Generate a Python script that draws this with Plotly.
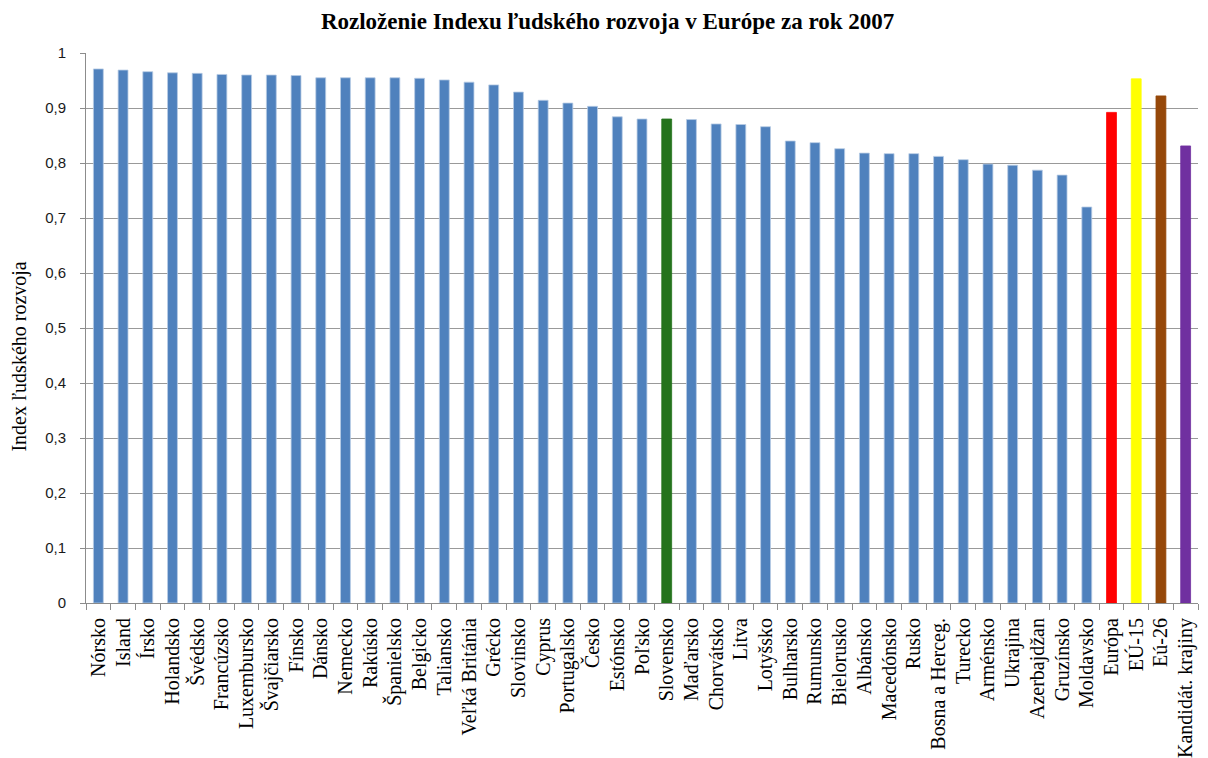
import plotly.graph_objects as go

# Human Development Index in Europe, 2007
krajiny = [
    "Nórsko", "Island", "Írsko", "Holandsko", "Švédsko", "Francúzsko",
    "Luxembursko", "Švajčiarsko", "Fínsko", "Dánsko", "Nemecko", "Rakúsko",
    "Španielsko", "Belgicko", "Taliansko", "Veľká Británia", "Grécko",
    "Slovinsko", "Cyprus", "Portugalsko", "Česko", "Estónsko", "Poľsko",
    "Slovensko", "Maďarsko", "Chorvátsko", "Litva", "Lotyšsko", "Bulharsko",
    "Rumunsko", "Bielorusko", "Albánsko", "Macedónsko", "Rusko",
    "Bosna a Herceg.", "Turecko", "Arménsko", "Ukrajina", "Azerbajdžan",
    "Gruzínsko", "Moldavsko", "Európa", "EÚ-15", "Eú-26", "Kandidát. krajiny",
]

hdi = [
    0.971, 0.969, 0.966, 0.964, 0.963, 0.961,
    0.960, 0.960, 0.959, 0.955, 0.955, 0.955,
    0.955, 0.954, 0.951, 0.947, 0.942,
    0.929, 0.914, 0.909, 0.903, 0.884, 0.880,
    0.880, 0.879, 0.871, 0.870, 0.866, 0.840,
    0.837, 0.826, 0.818, 0.817, 0.817,
    0.812, 0.806, 0.798, 0.796, 0.787,
    0.778, 0.720, 0.892, 0.953, 0.922, 0.831,
]

# highlighted bars (Slovakia and aggregate groups)
zvyraznenie = {
    "Slovensko": "#25731d",
    "Európa": "#ff0000",
    "EÚ-15": "#ffff00",
    "Eú-26": "#964809",
    "Kandidát. krajiny": "#7030a0",
}
zakladna_farba = "#4f81bd"

y_hodnoty = [0, 0.1, 0.2, 0.3, 0.4, 0.5, 0.6, 0.7, 0.8, 0.9, 1.0]
y_popisy = ["0", "0,1", "0,2", "0,3", "0,4", "0,5", "0,6", "0,7", "0,8", "0,9", "1"]

farby = [zvyraznenie.get(k, zakladna_farba) for k in krajiny]
okraje = ["#b8cce4" if k not in zvyraznenie else zvyraznenie[k] for k in krajiny]

fig = go.Figure(
    go.Bar(
        x=krajiny,
        y=hdi,
        marker=dict(color=farby, line=dict(color=okraje, width=0.8)),
        hoverinfo="x+y",
    )
)

fig.update_layout(
    width=1208,
    height=758,
    margin=dict(l=86, r=10, t=53, b=155),
    paper_bgcolor="white",
    plot_bgcolor="white",
    bargap=0.6,
    showlegend=False,
    title=dict(
        text="<b>Rozloženie Indexu ľudského rozvoja v Európe za rok 2007</b>",
        x=0.503,
        xanchor="center",
        y=0.972,
        yanchor="middle",
        font=dict(family="Liberation Serif", size=23, color="#000000"),
    ),
    xaxis=dict(
        type="category",
        automargin=False,
        tickangle=-90,
        tickfont=dict(family="Liberation Serif", size=20, color="#000000"),
        showline=True,
        linecolor="#8c8c8c",
        linewidth=1,
        ticks="outside",
        ticklen=6,
        tickcolor="#8c8c8c",
        tickson="boundaries",
        showgrid=False,
        ticklabelstandoff=6,
    ),
    yaxis=dict(
        range=[0, 1],
        automargin=False,
        tickvals=y_hodnoty,
        ticktext=y_popisy,
        tickfont=dict(family="Liberation Sans", size=15, color="#1a1a1a"),
        showline=True,
        linecolor="#8c8c8c",
        linewidth=1,
        ticks="outside",
        ticklen=5,
        tickcolor="#8c8c8c",
        showgrid=True,
        gridcolor="#999999",
        gridwidth=1.2,
        zeroline=False,
        ticklabelstandoff=11,
    ),
    annotations=[
        dict(
            text="Index ľudského rozvoja",
            textangle=-90,
            xref="paper",
            yref="paper",
            x=-0.0594,
            y=0.448,
            xanchor="center",
            yanchor="middle",
            showarrow=False,
            font=dict(family="Liberation Serif", size=20, color="#000000"),
        )
    ],
)

fig.write_html("out.html")
